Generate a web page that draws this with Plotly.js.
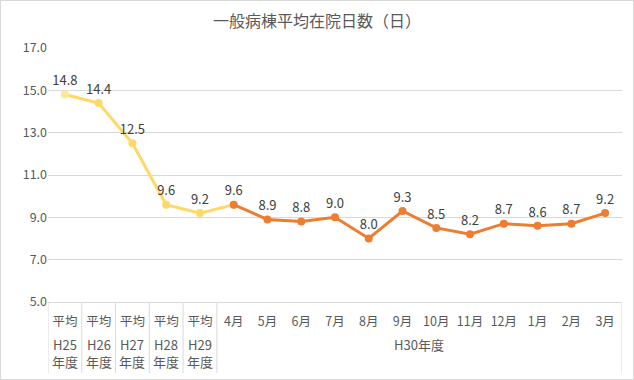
<!DOCTYPE html>
<html><head><meta charset="utf-8">
<script src="https://cdn.plot.ly/plotly-3.0.1.min.js"></script>
<style>
html,body{margin:0;padding:0;background:#fff;}
#chart{width:632px;height:378px;border:1px solid #d9d9d9;}
</style></head>
<body><div id="chart"></div>
<script>
const groups = ['H25<br>年度','H26<br>年度','H27<br>年度','H28<br>年度','H29<br>年度',
  'H30年度','H30年度','H30年度','H30年度','H30年度','H30年度','H30年度','H30年度','H30年度','H30年度','H30年度','H30年度'];
const categories = ['平均','平均','平均','平均','平均','4月','5月','6月','7月','8月','9月','10月','11月','12月','1月','2月','3月'];
const values = [14.8,14.4,12.5,9.6,9.2,9.6,8.9,8.8,9.0,8.0,9.3,8.5,8.2,8.7,8.6,8.7,9.2];
const nAvg = 5;

const font = '"Noto Sans CJK JP", "Noto Sans", sans-serif';
const idx = values.map((v,i)=>i);
const yX = idx.slice(0, nAvg+1), yV = values.slice(0, nAvg+1);
const oX = idx.slice(nAvg), oV = values.slice(nAvg);

const traces = [
  {x:yX, y:yV, type:'scatter', mode:'lines+markers+text',
   line:{color:'#FFD966', width:3},
   marker:{color:yV.map((v,i)=>i===0?'#FFE699':'#FFD966'), size:8},
   text:yV.map((v,i)=>i<nAvg?v.toFixed(1):''), textposition:'top center',
   textfont:{family:font,size:13,color:'#404040'}, cliponaxis:false, hoverinfo:'y'},
  {x:oX, y:oV, type:'scatter', mode:'lines+markers+text',
   line:{color:'#ED7D31', width:3},
   marker:{color:'#ED7D31', size:8},
   text:oV.map(v=>v.toFixed(1)), textposition:'top center',
   textfont:{family:font,size:13,color:'#404040'}, cliponaxis:false, hoverinfo:'y'}
];

// group labels and dividers derived from the groups array
const annotations = [];
const shapes = [];
const divBottom = -0.28;
let start = 0;
for (let i = 1; i <= groups.length; i++) {
  if (i === groups.length || groups[i] !== groups[start]) {
    annotations.push({x:(start + i - 1)/2, xref:'x', y:-0.122, yref:'paper', yanchor:'top', xanchor:'center',
      text:groups[start], showarrow:false, font:{family:font,size:13,color:'#595959'}});
    start = i;
  }
}
const bounds = [-0.5];
for (let i = 1; i < groups.length; i++) if (groups[i] !== groups[i-1]) bounds.push(i - 0.5);
bounds.push(groups.length - 0.5);
bounds.forEach(b => shapes.push({type:'line', xref:'x', yref:'paper', x0:b, x1:b, y0:0, y1:divBottom,
  line:{color:'#d9d9d9', width:1}}));

const layout = {
  width:632, height:378,
  margin:{l:47, r:11, t:47, b:77},
  paper_bgcolor:'#fff', plot_bgcolor:'#fff',
  showlegend:false,
  title:{text:'一般病棟平均在院日数（日）', font:{family:font,size:16,color:'#595959'}, x:0.5, xanchor:'center', y:0.945, yanchor:'middle'},
  xaxis:{type:'linear', range:[-0.5, categories.length-0.5], tickmode:'array', tickvals:idx, ticktext:categories, tickangle:0,
    showgrid:false, zeroline:false, showline:true, linecolor:'#d9d9d9', linewidth:1, ticklabelstandoff:8,
    tickfont:{family:font,size:12.5,color:'#595959'}, ticks:'', fixedrange:true},
  yaxis:{range:[5,17], dtick:2, tick0:5, tickformat:'.1f', showgrid:true, gridcolor:'#d9d9d9', gridwidth:1,
    zeroline:false, showline:false, tickfont:{family:font,size:12.5,color:'#595959'}, ticks:'', ticklen:0, fixedrange:true},
  annotations, shapes
};
Plotly.newPlot('chart', traces, layout, {displayModeBar:false, staticPlot:true});
</script></body></html>
